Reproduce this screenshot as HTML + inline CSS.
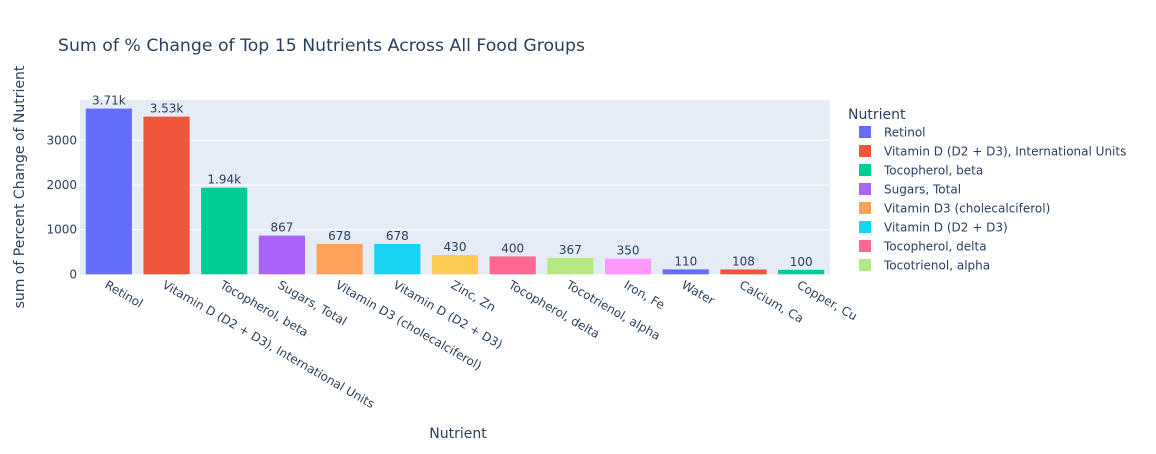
<!DOCTYPE html>
<html><head><meta charset="utf-8"><style>
body{margin:0;background:#fff;font-family:"DejaVu Sans",sans-serif}
svg text{font-family:"DejaVu Sans","Liberation Sans",sans-serif;fill:#2a3f5f}
</style></head><body>
<svg id="chart" width="1156" height="450">
<rect x="0" y="0" width="1156" height="450" fill="#fff"/>
<text x="58" y="51" font-size="17.3">Sum of % Change of Top 15 Nutrients Across All Food Groups</text>
<rect x="80" y="100" width="750" height="174.3" fill="#e5ecf6"/>
<g id="grid"></g><g id="bars"></g><g id="xt"></g>
<text transform="translate(24,187) rotate(-90)" text-anchor="middle" font-size="14">sum of Percent Change of Nutrient</text>
<text x="458" y="438" text-anchor="middle" font-size="14">Nutrient</text>
<text x="848" y="119" font-size="14">Nutrient</text>
<g id="legend"></g>
</svg>
<script>
const categories=["Retinol","Vitamin D (D2 + D3), International Units","Tocopherol, beta","Sugars, Total","Vitamin D3 (cholecalciferol)","Vitamin D (D2 + D3)","Zinc, Zn","Tocopherol, delta","Tocotrienol, alpha","Iron, Fe","Water","Calcium, Ca","Copper, Cu"];
const values=[3710,3530,1940,867,678,678,430,400,367,350,110,108,100];
const labels=["3.71k","3.53k","1.94k","867","678","678","430","400","367","350","110","108","100"];
const yTicks=[0,1000,2000,3000];
const colors=["#636efa","#EF553B","#00cc96","#ab63fa","#FFA15A","#19d3f3","#FF6692","#B6E880","#FF97FF","#FECB52"];
const legendItems=["Retinol","Vitamin D (D2 + D3), International Units","Tocopherol, beta","Sugars, Total","Vitamin D3 (cholecalciferol)","Vitamin D (D2 + D3)","Tocopherol, delta","Tocotrienol, alpha"];
const legendColorIdx=[0,1,2,3,4,5,6,7];
const barColorIdx=[0,1,2,3,4,5,9,6,7,8,0,1,2];
const NS="http://www.w3.org/2000/svg";
const X0=80,W=750,Y0=274.3,YMAX=3902,H=174.3;
const y=v=>Y0-v/YMAX*H;
const step=W/categories.length;
const xc=i=>X0+step*(i+0.5);
function mk(t,a,p){const e=document.createElementNS(NS,t);for(const k in a)e.setAttribute(k,a[k]);p.appendChild(e);return e;}
const grid=document.getElementById('grid');
yTicks.forEach(t=>{
  if(t>0){const l=mk('line',{x1:X0,x2:X0+W,y1:y(t),y2:y(t),stroke:'#fff','stroke-width':1},grid);
  
  }
  const tx=mk('text',{x:X0-3,y:y(t)+4,'text-anchor':'end','font-size':12},grid);tx.textContent=t;
  
  
});
const bars=document.getElementById('bars'),xt=document.getElementById('xt');
categories.forEach((c,i)=>{
  const bw=step*0.8;
  const r=mk('rect',{x:xc(i)-bw/2,y:y(values[i]),width:bw,height:Y0-y(values[i]),fill:colors[barColorIdx[i]]},bars);
  
  
  const t=mk('text',{x:xc(i),y:y(values[i])-4,'text-anchor':'middle','font-size':12},bars);t.textContent=labels[i];
  
  
  const l=mk('text',{transform:`translate(${xc(i)-5},${Y0+13}) rotate(30)`,'font-size':12},xt);l.textContent=c;
  
  
});
const lg=document.getElementById('legend');
legendItems.forEach((n,i)=>{
  const yy=132+i*19;
  const s=mk('rect',{x:859,y:yy-6,width:12,height:12,fill:colors[legendColorIdx[i]]},lg);
  
  
  const t=mk('text',{x:884,y:yy+4.5,'font-size':12},lg);t.textContent=n;
  
  
});
</script>
</body></html>
